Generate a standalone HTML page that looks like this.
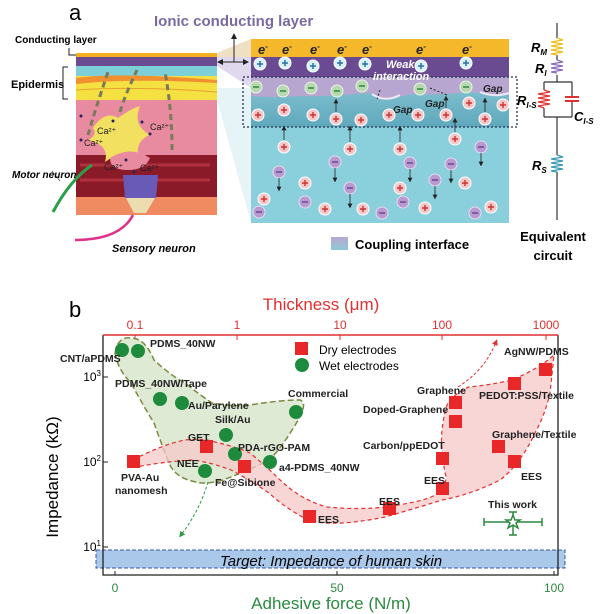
<!DOCTYPE html>
<html><head><meta charset="utf-8"><style>
html,body{margin:0;padding:0;background:#fff;}
svg{display:block;font-family:"Liberation Sans",sans-serif;}
.b{font-weight:bold;}
.bi{font-weight:bold;font-style:italic;}
</style></head><body>
<svg width="600" height="614" viewBox="0 0 600 614" xmlns="http://www.w3.org/2000/svg">
<defs>
<linearGradient id="cg" x1="0" y1="0" x2="0" y2="1"><stop offset="0" stop-color="#b8a8d0"/><stop offset="1" stop-color="#8ccad8"/></linearGradient>
<linearGradient id="tg" x1="0" y1="0" x2="0" y2="1"><stop offset="0" stop-color="#88c6d4"/><stop offset="1" stop-color="#5fa8bc"/></linearGradient>
<marker id="ah" markerWidth="6" markerHeight="6" refX="3" refY="3" orient="auto"><path d="M0,0 L6,3 L0,6z" fill="#222"/></marker>
<marker id="ar" markerWidth="6" markerHeight="6" refX="3" refY="3" orient="auto"><path d="M0,0 L6,3 L0,6z" fill="#e03030"/></marker>
<marker id="ag" markerWidth="6" markerHeight="6" refX="3" refY="3" orient="auto"><path d="M0,0 L6,3 L0,6z" fill="#2a9a40"/></marker>
</defs>

<!-- panel a -->
<text x="69" y="20" font-size="22">a</text>
<text x="154" y="26" font-size="15" class="b" fill="#7a6aa0">Ionic conducting layer</text>
<text x="15" y="43" font-size="10" class="b">Conducting layer</text>
<path d="M69,48 V55 H76" fill="none" stroke="#222" stroke-width="1"/>
<text x="11" y="88" font-size="11" class="b">Epidermis</text>
<path d="M68,67 H63 V99 H68 M63,83 H59" fill="none" stroke="#222" stroke-width="1"/>

<!-- zoom trapezoid -->
<path d="M217,53 L251,39 L251,88 L217,66z" fill="#d8d0e8" opacity="0.8"/>
<path d="M217,53 L251,39 L251,57 L217,57z" fill="#f5e2b0" opacity="0.7"/>
<path d="M217,88 L251,88 L251,223 L217,100z" fill="#d6ecf2" opacity="0.6"/>

<!-- skin -->
<rect x="76" y="53" width="141" height="162" fill="#f0a070"/>
<rect x="76" y="53" width="141" height="4" fill="#f5b020"/>
<rect x="76" y="57" width="141" height="9" fill="#6a4a90"/>
<rect x="76" y="66" width="141" height="10" fill="#7ed0d8"/>
<rect x="76" y="76" width="141" height="24" fill="#f4e040"/>
<path d="M76,78 Q120,72 217,80 L217,83 Q130,78 76,84z" fill="#f09030"/>
<path d="M76,90 Q140,86 217,92" stroke="#e8a030" fill="none"/>
<rect x="76" y="100" width="141" height="60" fill="#e88aa0"/>
<rect x="76" y="155" width="141" height="42" fill="#8a1a28"/>
<path d="M80,165 h130 M80,180 h130" stroke="#b03040" stroke-width="3"/>
<rect x="76" y="197" width="141" height="18" fill="#f08a60"/>
<path d="M93,128 Q105,110 118,118 Q132,108 140,106 Q132,125 150,135 Q135,140 138,160 Q120,150 105,162 Q110,145 88,140 Q98,135 93,128z" fill="#f2e060"/>
<path d="M110,158 Q130,145 150,158 Q145,170 128,170 Q110,170 110,158z" fill="#e88aa0"/>
<path d="M123,175 L158,175 L156,198 L140,202 L125,198z" fill="#6a5ab8"/>
<path d="M126,198 L155,198 L146,213 L134,213z" fill="#ecdcb0"/>
<g stroke="#7a7a5a" stroke-width="3" stroke-dasharray="6,4" fill="none">
<path d="M88,135 Q95,110 108,72"/><path d="M120,112 Q125,95 137,70"/><path d="M172,150 Q172,110 165,72"/>
</g>
<g font-size="9" fill="#222"><text x="97" y="134">Ca²⁺</text><text x="150" y="130">Ca²⁺</text><text x="84" y="146">Ca²⁺</text><text x="104" y="170">Ca²⁺</text><text x="140" y="171">Ca²⁺</text></g>
<g fill="#2a2060"><circle cx="81" cy="116" r="1.5"/><circle cx="113" cy="121" r="1.5"/><circle cx="142" cy="122" r="1.5"/><circle cx="81" cy="140" r="1.5"/><circle cx="150" cy="134" r="1.5"/><circle cx="126" cy="160" r="1.5"/><circle cx="134" cy="172" r="1.5"/></g>
<path d="M92,165 Q70,180 53,212" stroke="#2aa048" stroke-width="3" fill="none"/>
<path d="M60,181 L52,171" stroke="#555" stroke-width="0.8"/>
<text x="12" y="178" font-size="10" class="bi">Motor neuron</text>
<path d="M133,215 Q120,240 75,240" stroke="#e03088" stroke-width="2.5" fill="none"/>
<text x="112" y="252" font-size="11" class="bi">Sensory  neuron</text>

<!-- arrows -->
<path d="M234,62 V36" stroke="#222" marker-end="url(#ah)"/>
<path d="M234,62 H221 M234,62 H246" stroke="#222" marker-end="url(#ah)"/>
<path d="M234,62 H220" stroke="#222" marker-end="url(#ah)"/>

<!-- right panel -->
<rect x="251" y="39" width="258" height="184" fill="#8acfdc"/>
<rect x="251" y="39" width="258" height="18" fill="#f5b82a"/>
<rect x="251" y="57" width="258" height="20" fill="#6a4a90"/>
<rect x="251" y="77" width="258" height="50" fill="url(#tg)"/>
<path d="M251,77 H509 V95 Q490,94 470,92 Q430,96 410,94 Q380,104 370,93 Q320,97 300,96 Q270,98 251,96z" fill="#b7a6cf"/>
<path d="M372,94 Q385,103 400,95" stroke="#f0e8f8" stroke-width="2" fill="none"/>
<path d="M480,92 Q495,98 509,93" stroke="#f0e8f8" stroke-width="2" fill="none"/>
<rect x="243" y="77" width="274" height="50" fill="none" stroke="#203050" stroke-width="1.3" stroke-dasharray="2,2"/>
<g font-size="13" class="bi" fill="#222">
<text x="258" y="54">e<tspan font-size="8" dy="-5">-</tspan></text><text x="282" y="54">e<tspan font-size="8" dy="-5">-</tspan></text><text x="310" y="54">e<tspan font-size="8" dy="-5">-</tspan></text><text x="337" y="54">e<tspan font-size="8" dy="-5">-</tspan></text><text x="362" y="54">e<tspan font-size="8" dy="-5">-</tspan></text><text x="416" y="54">e<tspan font-size="8" dy="-5">-</tspan></text><text x="462" y="54">e<tspan font-size="8" dy="-5">-</tspan></text>
</g>
<g fill="#d8f0f8" stroke="#fff" stroke-width="1">
<circle cx="260" cy="64" r="6"/><circle cx="285" cy="63" r="6"/><circle cx="313" cy="66" r="6"/><circle cx="340" cy="63" r="6"/><circle cx="365" cy="64" r="6"/><circle cx="421" cy="66" r="6"/><circle cx="466" cy="63" r="6"/>
</g>
<g stroke="#2a70a0" stroke-width="1.5">
<path d="M257,64h6M260,61v6M282,63h6M285,60v6M310,66h6M313,63v6M337,63h6M340,60v6M362,64h6M365,61v6M418,66h6M421,63v6M463,63h6M466,60v6"/>
</g>
<text x="386" y="68" font-size="11" class="bi" fill="#fff">Weak</text>
<text x="373" y="80" font-size="11" class="bi" fill="#fff">interaction</text>
<g fill="#b8d8b0" stroke="#e8f4e8"><circle cx="256" cy="87" r="6"/><circle cx="283" cy="91" r="6"/><circle cx="311" cy="88" r="6"/><circle cx="337" cy="91" r="6"/><circle cx="362" cy="86" r="6"/><circle cx="420" cy="89" r="6"/><circle cx="466" cy="87" r="6"/></g>
<g stroke="#2a8a40" stroke-width="1.5"><path d="M253,87h6M280,91h6M308,88h6M334,91h6M359,86h6M417,89h6M463,87h6"/></g>
<path d="M380,90 L377,99 M430,88 L447,95" stroke="#222" stroke-dasharray="2,2"/>
<g font-size="10" class="bi" fill="#222"><text x="483" y="92">Gap</text><text x="393" y="113">Gap</text><text x="425" y="107">Gap</text></g>
<g fill="#f4c8c8" stroke="#fff"><circle cx="258" cy="115" r="6"/><circle cx="284" cy="110" r="6"/><circle cx="313" cy="115" r="6"/><circle cx="336" cy="119" r="6"/><circle cx="361" cy="120" r="6"/><circle cx="389" cy="115" r="6"/><circle cx="418" cy="115" r="6"/><circle cx="446" cy="115" r="6"/><circle cx="469" cy="103" r="6"/><circle cx="485" cy="119" r="6"/><circle cx="503" cy="105" r="6"/>
<circle cx="284" cy="147" r="6"/><circle cx="350" cy="149" r="6"/><circle cx="400" cy="149" r="6"/><circle cx="455" cy="139" r="6"/><circle cx="305" cy="183" r="6"/><circle cx="400" cy="188" r="6"/><circle cx="465" cy="183" r="6"/><circle cx="264" cy="199" r="6"/><circle cx="325" cy="209" r="6"/><circle cx="363" cy="209" r="6"/><circle cx="425" cy="208" r="6"/><circle cx="491" cy="207" r="6"/></g>
<g stroke="#d03030" stroke-width="1.4"><path d="M255,115h6M258,112v6M281,110h6M284,107v6M310,115h6M313,112v6M333,119h6M336,116v6M358,120h6M361,117v6M386,115h6M389,112v6M415,115h6M418,112v6M443,115h6M446,112v6M466,103h6M469,100v6M482,119h6M485,116v6M500,105h6M503,102v6
M281,147h6M284,144v6M347,149h6M350,146v6M397,149h6M400,146v6M452,139h6M455,136v6M302,183h6M305,180v6M397,188h6M400,185v6M462,183h6M465,180v6M261,199h6M264,196v6M322,209h6M325,206v6M360,209h6M363,206v6M422,208h6M425,205v6M488,207h6M491,204v6"/></g>
<g fill="#b89ad0" stroke="#e8dcf0"><circle cx="279" cy="172" r="6"/><circle cx="335" cy="162" r="6"/><circle cx="410" cy="163" r="6"/><circle cx="451" cy="164" r="6"/><circle cx="481" cy="147" r="6"/><circle cx="350" cy="188" r="6"/><circle cx="435" cy="180" r="6"/><circle cx="305" cy="202" r="6"/><circle cx="403" cy="202" r="6"/><circle cx="382" cy="213" r="6"/><circle cx="259" cy="212" r="6"/><circle cx="475" cy="213" r="6"/></g>
<g stroke="#6a4a90" stroke-width="1.4"><path d="M276,172h6M332,162h6M407,163h6M448,164h6M478,147h6M347,188h6M432,180h6M302,202h6M400,202h6M379,213h6M256,212h6M472,213h6"/></g>
<g stroke="#222" stroke-width="0.8" marker-end="url(#ah)">
<path d="M336,112 V101"/><path d="M446,108 V98"/><path d="M485,112 V100"/>
<path d="M284,140 V128"/><path d="M350,142 V128"/><path d="M400,142 V128"/><path d="M455,132 V120"/>
<path d="M279,178 V189"/><path d="M335,168 V180"/><path d="M410,169 V180"/><path d="M451,170 V181"/><path d="M481,153 V164"/><path d="M350,194 V206"/><path d="M435,186 V197"/>
</g>
<rect x="331" y="237" width="17" height="13" fill="url(#cg)"/>
<text x="355" y="249" font-size="13" class="b">Coupling interface</text>

<!-- circuit -->
<path d="M557,23 V38 M557,55 V60 M557,75 V82 M557,117 V155 M557,172 V220" stroke="#333" stroke-width="1.2"/>
<path d="M557,38 l6,2 l-12,2 l12,2 l-12,2 l12,2 l-12,2 l12,2 l-12,2 l6,1" stroke="#e8c020" fill="none" stroke-width="1.3"/>
<path d="M557,60 l6,2 l-12,2 l12,2 l-12,2 l12,2 l-12,2 l6,1" stroke="#8a6ab8" fill="none" stroke-width="1.3"/>
<path d="M544,82 H572 M544,117 H572 M544,82 V90 M544,108 V117 M572,82 V97 M572,101 V117" stroke="#333" stroke-width="1.2" fill="none"/>
<path d="M544,90 l6,2 l-12,2 l12,2 l-12,2 l12,2 l-12,2 l12,2 l-12,2 l6,2" stroke="#e03030" fill="none" stroke-width="1.3"/>
<path d="M565,97 H579 M565,101 H579" stroke="#e03030" stroke-width="2"/>
<path d="M557,155 l6,2 l-12,2 l12,2 l-12,2 l12,2 l-12,2 l12,2 l-12,2 l6,1" stroke="#3a9ab0" fill="none" stroke-width="1.3"/>
<g font-size="13" class="bi"><text x="531" y="52">R<tspan font-size="8" dy="3">M</tspan></text><text x="535" y="73">R<tspan font-size="8" dy="3">I</tspan></text><text x="517" y="105">R<tspan font-size="8" dy="3">I-S</tspan></text><text x="574" y="121">C<tspan font-size="8" dy="3">I-S</tspan></text><text x="532" y="170">R<tspan font-size="8" dy="3">S</tspan></text></g>
<text x="553" y="241" font-size="13" class="b" text-anchor="middle">Equivalent</text>
<text x="553" y="260" font-size="13" class="b" text-anchor="middle">circuit</text>

<!-- panel b -->
<text x="69" y="317" font-size="22">b</text>
<text x="321" y="310" font-size="17" fill="#e03030" text-anchor="middle">Thickness (μm)</text>
<g font-size="12" fill="#e03030" text-anchor="middle"><text x="135" y="329">0.1</text><text x="237" y="329">1</text><text x="340" y="329">10</text><text x="442" y="329">100</text><text x="546" y="329">1000</text></g>
<rect x="96" y="550" width="469" height="18" fill="#aac8ea" stroke="#3a5a9a" stroke-dasharray="4,2"/>
<path d="M103,335 V575 H558 V335" stroke="#222" stroke-width="1.3" fill="none"/>
<path d="M103,335 H558" stroke="#e03030" stroke-width="1.5"/>
<g stroke="#e03030"><path d="M135,335v5M237,335v5M340,335v5M442,335v5M546,335v5"/></g>
<g stroke="#222"><path d="M103,377h5M103,462h5M103,547h5M115,575v-4M337,575v-4M554,575v-4"/></g>
<g font-size="12" text-anchor="end"><text x="101" y="381">10<tspan font-size="8" dy="-5">3</tspan></text><text x="101" y="466">10<tspan font-size="8" dy="-5">2</tspan></text><text x="101" y="551">10<tspan font-size="8" dy="-5">1</tspan></text></g>
<g font-size="12" fill="#2a8a40" text-anchor="middle"><text x="115" y="592">0</text><text x="337" y="592">50</text><text x="554" y="592">100</text></g>
<text x="331" y="609" font-size="17" fill="#2a8a40" text-anchor="middle">Adhesive force (N/m)</text>
<text transform="translate(58,477) rotate(-90)" font-size="17" text-anchor="middle">Impedance (kΩ)</text>
<text x="331" y="566" font-size="15" font-style="italic" text-anchor="middle">Target: Impedance of human skin</text>

<path d="M115,353 Q118,336 131,338 Q145,338 154,360 Q170,375 185,383 Q200,395 212,403 Q235,407 250,405 Q280,400 300,400 Q310,403 292,430 Q280,450 269,460 Q250,470 223,480 Q205,485 196,482 Q175,478 169,463 Q160,440 154,423 Q140,400 131,383 Q118,370 115,353z" fill="#d8e6cc" fill-opacity="0.85" stroke="#7a8a40" stroke-width="1.5" stroke-dasharray="6,3"/>
<path d="M127,463 Q160,445 185,440 Q205,438 215,442 Q240,448 250,453 Q265,465 277,477 Q300,500 327,507 Q360,510 385,507 Q420,502 431,497 Q446,490 446,477 Q440,450 442,430 Q445,405 450,400 Q460,390 469,387 Q490,385 512,380 Q540,368 554,355 Q552,375 550,393 Q545,415 535,433 Q520,465 500,480 Q470,495 442,500 Q410,510 385,517 Q360,522 342,523 Q320,524 308,520 Q285,508 269,493 Q250,480 231,470 Q210,462 192,460 Q160,462 131,468z" fill="#f6c8c8" fill-opacity="0.75" stroke="#e03030" stroke-width="1.2" stroke-dasharray="4,3"/>
<path d="M458,387 Q485,370 496,342" stroke="#e03030" stroke-dasharray="3,2" fill="none" marker-end="url(#ar)"/>
<path d="M208,482 Q200,510 181,535" stroke="#2a9a40" stroke-dasharray="3,2" fill="none" marker-end="url(#ag)"/>

<g fill="#1e8a3c"><circle cx="122" cy="350" r="7"/><circle cx="138" cy="351" r="7"/><circle cx="160" cy="399" r="7"/><circle cx="182" cy="403" r="7"/><circle cx="296" cy="412" r="7"/><circle cx="226" cy="435" r="7"/><circle cx="235" cy="454" r="7"/><circle cx="270" cy="462" r="7"/><circle cx="205" cy="471" r="7"/><circle cx="302" cy="365" r="7"/></g>
<g fill="#e82828"><rect x="127" y="455" width="13" height="13"/><rect x="200" y="440" width="13" height="13"/><rect x="238" y="460" width="13" height="13"/><rect x="303" y="510" width="13" height="13"/><rect x="383" y="502" width="13" height="13"/><rect x="436" y="482" width="13" height="13"/><rect x="436" y="452" width="13" height="13"/><rect x="449" y="396" width="13" height="13"/><rect x="449" y="415" width="13" height="13"/><rect x="492" y="440" width="13" height="13"/><rect x="508" y="455" width="13" height="13"/><rect x="508" y="377" width="13" height="13"/><rect x="539" y="363" width="13" height="13"/><rect x="295" y="342" width="13" height="13"/></g>
<text x="319" y="354" font-size="12">Dry electrodes</text>
<text x="319" y="370" font-size="12">Wet electrodes</text>
<g stroke="#2a8a40" stroke-width="1.5" fill="none"><path d="M484,522 H542 M484,518 v8 M542,518 v8 M513,512 V535 M509,512 h8 M509,535 h8"/><path d="M513,515 l2,5 5,0 -4,3 2,5 -5,-3 -5,3 2,-5 -4,-3 5,0z" fill="#fff"/></g>

<g font-size="10.5" class="b" fill="#222">
<text x="60" y="362">CNT/aPDMS</text><text x="150" y="347">PDMS_40NW</text><text x="115" y="387">PDMS_40NW/Tape</text><text x="188" y="409">Au/Parylene</text><text x="288" y="397">Commercial</text><text x="215" y="423">Silk/Au</text><text x="188" y="441">GET</text><text x="238" y="451">PDA-rGO-PAM</text><text x="177" y="467">NEE</text><text x="279" y="471">a4-PDMS_40NW</text><text x="121" y="481">PVA-Au</text><text x="115" y="494">nanomesh</text><text x="215" y="486">Fe@Sibione</text><text x="417" y="394">Graphene</text><text x="363" y="413">Doped-Graphene</text><text x="363" y="449">Carbon/ppEDOT</text><text x="424" y="484">EES</text><text x="379" y="505">EES</text><text x="318" y="523">EES</text><text x="504" y="355">AgNW/PDMS</text><text x="479" y="399">PEDOT:PSS/Textile</text><text x="492" y="438">Graphene/Textile</text><text x="521" y="480">EES</text><text x="488" y="508">This work</text>
</g>
</svg>
</body></html>
